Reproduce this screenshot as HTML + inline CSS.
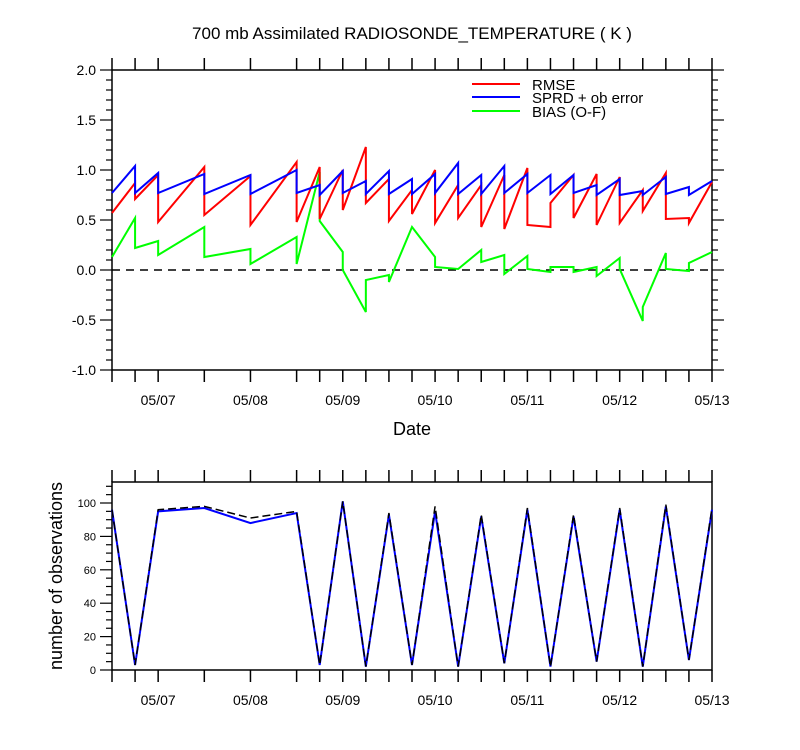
<!DOCTYPE html>
<html><head><meta charset="utf-8">
<style>
html,body{margin:0;padding:0;background:#fff;}
svg{display:block;font-family:"Liberation Sans",sans-serif;}
</style></head>
<body>
<svg id="chart" width="800" height="750" xmlns="http://www.w3.org/2000/svg"></svg>
<script>
// observation times in hours since 05/06 12Z
const times = [0,6,12,24,36,48,54,60,66,72,78,84,90,96,102,108,114,120,126,132,138,144,150,156];
// each time: [value arriving, value leaving]
const rmse = [[0.57,0.57],[0.87,0.71],[0.95,0.48],[1.03,0.55],[0.94,0.45],[1.08,0.48],[1.03,0.51],[1.0,0.60],[1.23,0.67],[0.91,0.49],[0.80,0.56],[1.0,0.47],[0.85,0.52],[0.85,0.43],[0.95,0.41],[1.02,0.45],[0.43,0.67],[0.95,0.52],[0.96,0.45],[0.93,0.47],[0.80,0.59],[0.97,0.51],[0.52,0.47],[0.88,0.88]];
const sprd = [[0.77,0.77],[1.04,0.77],[0.97,0.77],[0.96,0.76],[0.95,0.76],[1.00,0.77],[0.85,0.75],[0.99,0.77],[0.89,0.76],[0.99,0.76],[0.91,0.76],[0.96,0.77],[1.07,0.76],[0.95,0.76],[1.04,0.77],[0.96,0.77],[0.95,0.76],[0.95,0.77],[0.85,0.75],[0.91,0.75],[0.79,0.75],[0.93,0.76],[0.83,0.75],[0.89,0.89]];
const bias = [[0.13,0.13],[0.52,0.22],[0.29,0.15],[0.43,0.13],[0.21,0.06],[0.33,0.06],[0.98,0.49],[0.18,0.0],[-0.42,-0.10],[-0.05,-0.12],[0.43,0.43],[0.13,0.03],[0.01,0.01],[0.20,0.08],[0.15,-0.04],[0.14,0.01],[-0.02,0.03],[0.03,-0.02],[0.03,-0.06],[0.12,0.01],[-0.51,-0.37],[0.17,0.01],[-0.01,0.07],[0.18,0.18]];
const nobsUsed = [96,3,95,97,88,94,3,101,2,93,3,95,2,92,4,96,2,92,5,96,2,98,6,96];
const nobsTotal = [96,3,96,98,91,95,3,101,2,94,3,98,2,93,4,97,2,93,5,97,2,99,6,97];
const dayLabels = ["05/07","05/08","05/09","05/10","05/11","05/12","05/13"];
const dayHours = [12,36,60,84,108,132,156];
const topTicks = [-1.0,-0.5,0.0,0.5,1.0,1.5,2.0];
const botTicks = [0,20,40,60,80,100];

const NS="http://www.w3.org/2000/svg";
const svg=document.getElementById('chart');
function mk(tag,attrs,parent){const e=document.createElementNS(NS,tag);for(const k in attrs)e.setAttribute(k,attrs[k]);(parent||svg).appendChild(e);return e;}
const X0=112,X1=712;
const xs=h=>X0+(X1-X0)*h/156;
const yTop=v=>270-100*v;
const yBot=v=>670-1.67*v;

// title
let t=mk('text',{x:412,y:39,'text-anchor':'middle','font-size':17});
t.textContent="700 mb Assimilated RADIOSONDE_TEMPERATURE ( K )";



function frame(top,bot,name){
  const r=mk('rect',{x:X0,y:top,width:X1-X0,height:bot-top,fill:'none',stroke:'#000','stroke-width':1.5});
  
  
  times.forEach(h=>{
    mk('line',{x1:xs(h),x2:xs(h),y1:top-12,y2:top,stroke:'#000','stroke-width':1.5});
    mk('line',{x1:xs(h),x2:xs(h),y1:bot,y2:bot+12,stroke:'#000','stroke-width':1.5});
  });
  dayHours.forEach((h,i)=>{
    const l=mk('text',{x:xs(h),y:bot+35,'text-anchor':'middle','font-size':14});
    l.textContent=dayLabels[i];
    
    
  });
}
frame(70,370,'top-plot-frame');
frame(482,670,'bottom-plot-frame');

// top y ticks
for(let v=-1.0;v<=2.0001;v+=0.1){
  const y=yTop(v);const major=Math.abs(v*2-Math.round(v*2))<1e-6;
  const L=major?12:6;
  mk('line',{x1:X0-L,x2:X0,y1:y,y2:y,stroke:'#000','stroke-width':1.2});
  mk('line',{x1:X1,x2:X1+L,y1:y,y2:y,stroke:'#000','stroke-width':1.2});
}
topTicks.forEach(v=>{
  const l=mk('text',{x:96,y:yTop(v)+5,'text-anchor':'end','font-size':14});
  l.textContent=v.toFixed(1);
  
  
});
// bottom y ticks
for(let v=0;v<=112;v+=5){
  const y=yBot(v);const major=v%20===0;const L=major?12:6;
  mk('line',{x1:X0-L,x2:X0,y1:y,y2:y,stroke:'#000','stroke-width':1.2});
}
botTicks.forEach(v=>{
  const l=mk('text',{x:96,y:yBot(v)+4,'text-anchor':'end','font-size':11});
  l.textContent=v;
  
  
});

// zero line
const z=mk('line',{x1:X0,x2:X1,y1:yTop(0),y2:yTop(0),stroke:'#000','stroke-width':1.5,'stroke-dasharray':'8 6'});



function pairPath(arr){
  let d='';
  arr.forEach((p,i)=>{const x=xs(times[i]);d+=(i?'L':'M')+x+' '+yTop(p[0])+'L'+x+' '+yTop(p[1]);});
  return d;
}
const pb=mk('path',{d:pairPath(bias),fill:'none',stroke:'#00ff00','stroke-width':2});


const pr=mk('path',{d:pairPath(rmse),fill:'none',stroke:'#ff0000','stroke-width':2});


const ps=mk('path',{d:pairPath(sprd),fill:'none',stroke:'#0000ff','stroke-width':2});



// legend
const leg=[['RMSE','#ff0000',84],['SPRD + ob error','#0000ff',97],['BIAS (O-F)','#00ff00',111]];
leg.forEach(e=>{
  mk('line',{x1:472,x2:520,y1:e[2],y2:e[2],stroke:e[1],'stroke-width':2});
  const l=mk('text',{x:532,y:e[2]+6,'font-size':15});
  l.textContent=e[0];
  
  
});

// x title
const xt=mk('text',{x:412,y:435,'text-anchor':'middle','font-size':18});
xt.textContent='Date';



// bottom series
function linePath(arr){return arr.map((v,i)=>(i?'L':'M')+xs(times[i])+' '+yBot(v)).join('');}
const pu=mk('path',{d:linePath(nobsUsed),fill:'none',stroke:'#0000ff','stroke-width':2});


const pt=mk('path',{d:linePath(nobsTotal),fill:'none',stroke:'#000','stroke-width':1.5,'stroke-dasharray':'8 4'});



const yt=mk('text',{x:0,y:0,'text-anchor':'middle','font-size':18,transform:'translate(62,576) rotate(-90)'});
yt.textContent='number of observations';


</script>
</body></html>
